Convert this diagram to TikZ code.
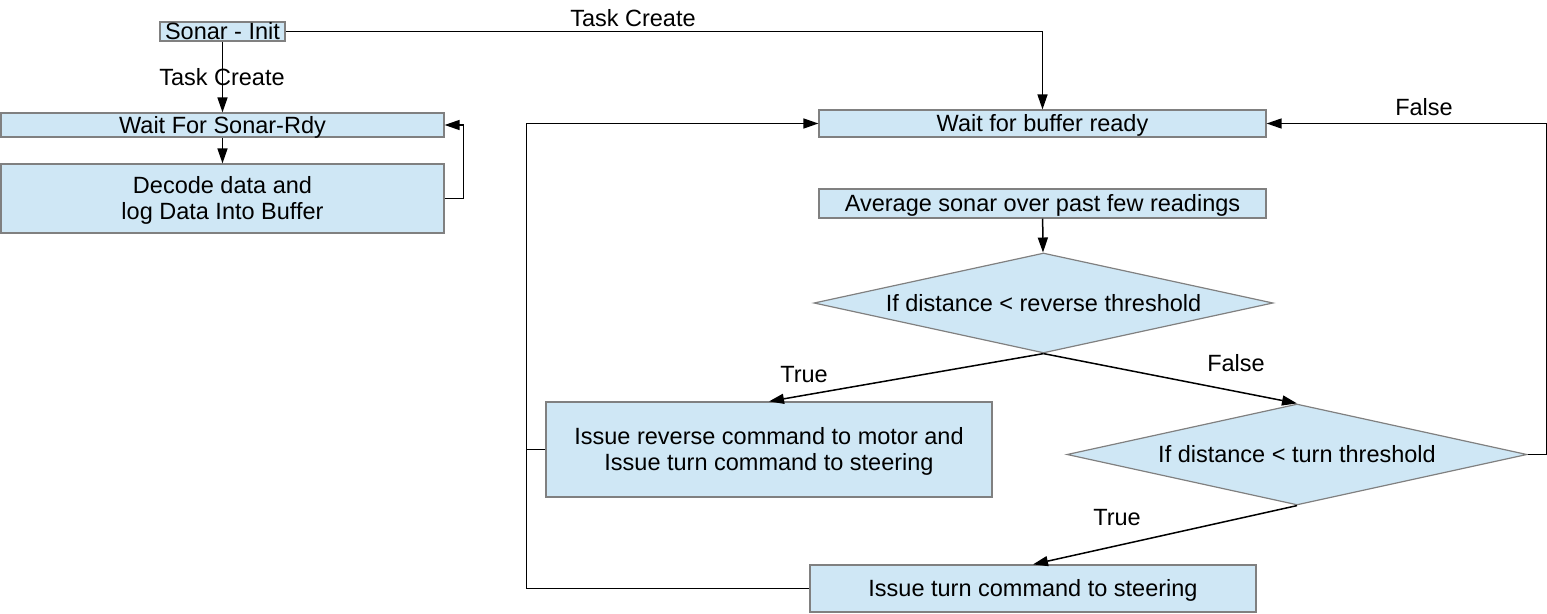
\documentclass[tikz,border=0pt]{standalone}
\usepackage{fontspec}
\setmainfont{Liberation Sans}
\usetikzlibrary{shapes.geometric,arrows.meta}
\definecolor{boxfill}{HTML}{CFE7F5}
\definecolor{boxline}{HTML}{808080}
\begin{document}
\begin{tikzpicture}[x=1pt,y=-1pt,
    box/.style={rectangle,draw=boxline,fill=boxfill,line width=1.2pt,inner sep=0pt,align=center,font=\fontsize{23.5}{26}\selectfont},
    one/.style={text height=17pt,text depth=1pt},
    two/.style={text height=43pt,text depth=0.7pt},
    dec/.style={diamond,draw=boxline,fill=boxfill,line width=1.2pt,inner sep=0pt,aspect=4.6,font=\fontsize{23.5}{26}\selectfont},
    lbl/.style={inner sep=0pt,text height=17pt,text depth=1pt,font=\fontsize{23.5}{26}\selectfont},
    link/.style={line width=1.5pt,-{Triangle[length=15pt,width=10pt]}}]
        \useasboundingbox (0,0) rectangle (1547,613);

        \node[box,one,minimum width=125pt,minimum height=19pt] (init) at (222.5,31.5) {Sonar - Init};
        \node[box,one,minimum width=443pt,minimum height=24pt] (wsr) at (222.5,125) {Wait For Sonar-Rdy};
        \node[box,two,minimum width=443pt,minimum height=69pt] (logbuf) at (222.5,198.5) {Decode data and\\log Data Into Buffer};

        \node[box,one,minimum width=447pt,minimum height=27pt] (wbr) at (1042.5,123.5) {Wait for buffer ready};
        \node[box,one,minimum width=447pt,minimum height=29pt] (avg) at (1042.5,203.5) {Average sonar over past few readings};
        \node[dec,one,minimum width=459pt,minimum height=100pt] (d1) at (1043.5,303) {If distance < reverse threshold};
        \node[box,two,minimum width=446pt,minimum height=95pt] (rev) at (769,449.5) {Issue reverse command to motor and\\Issue turn command to steering};
        \node[dec,one,minimum width=460pt,minimum height=101pt] (d2) at (1297,454.5) {If distance < turn threshold};
        \node[box,one,minimum width=446pt,minimum height=47pt] (turn) at (1033,588.5) {Issue turn command to steering};

        \node[lbl] (tc1) at (222,77) {Task Create};
        \node[lbl] (tc2) at (633,18) {Task Create};
        \node[lbl] (t1) at (804,374) {True};
        \node[lbl] (f1) at (1236,363) {False};
        \node[lbl] (f2) at (1424,107) {False};
        \node[lbl] (t2) at (1117,517) {True};

        \draw[link] (init) -- (wsr);
        \draw[link] (wsr) -- (logbuf);
        \draw[link] (logbuf.east) -- ++(19,0) |- (wsr.east);
        \draw[link] (init.east) -| (wbr.north);

        \draw[link] (avg) -- (d1);
        \draw[link] (d1.south) -- (rev.north);
        \draw[link] (d1.south) -- (d2.north);
        \draw[link] (d2.south) -- (turn.north);
        \draw[link] (d2.east) -- ++(19,0) |- (wbr.east);
        \draw[link] (turn.west) -- ++(-283,0) |- (wbr.west);
        \draw[line width=1.5pt] (rev.west) -- ++(-19,0);
    \end{tikzpicture}
\end{document}
